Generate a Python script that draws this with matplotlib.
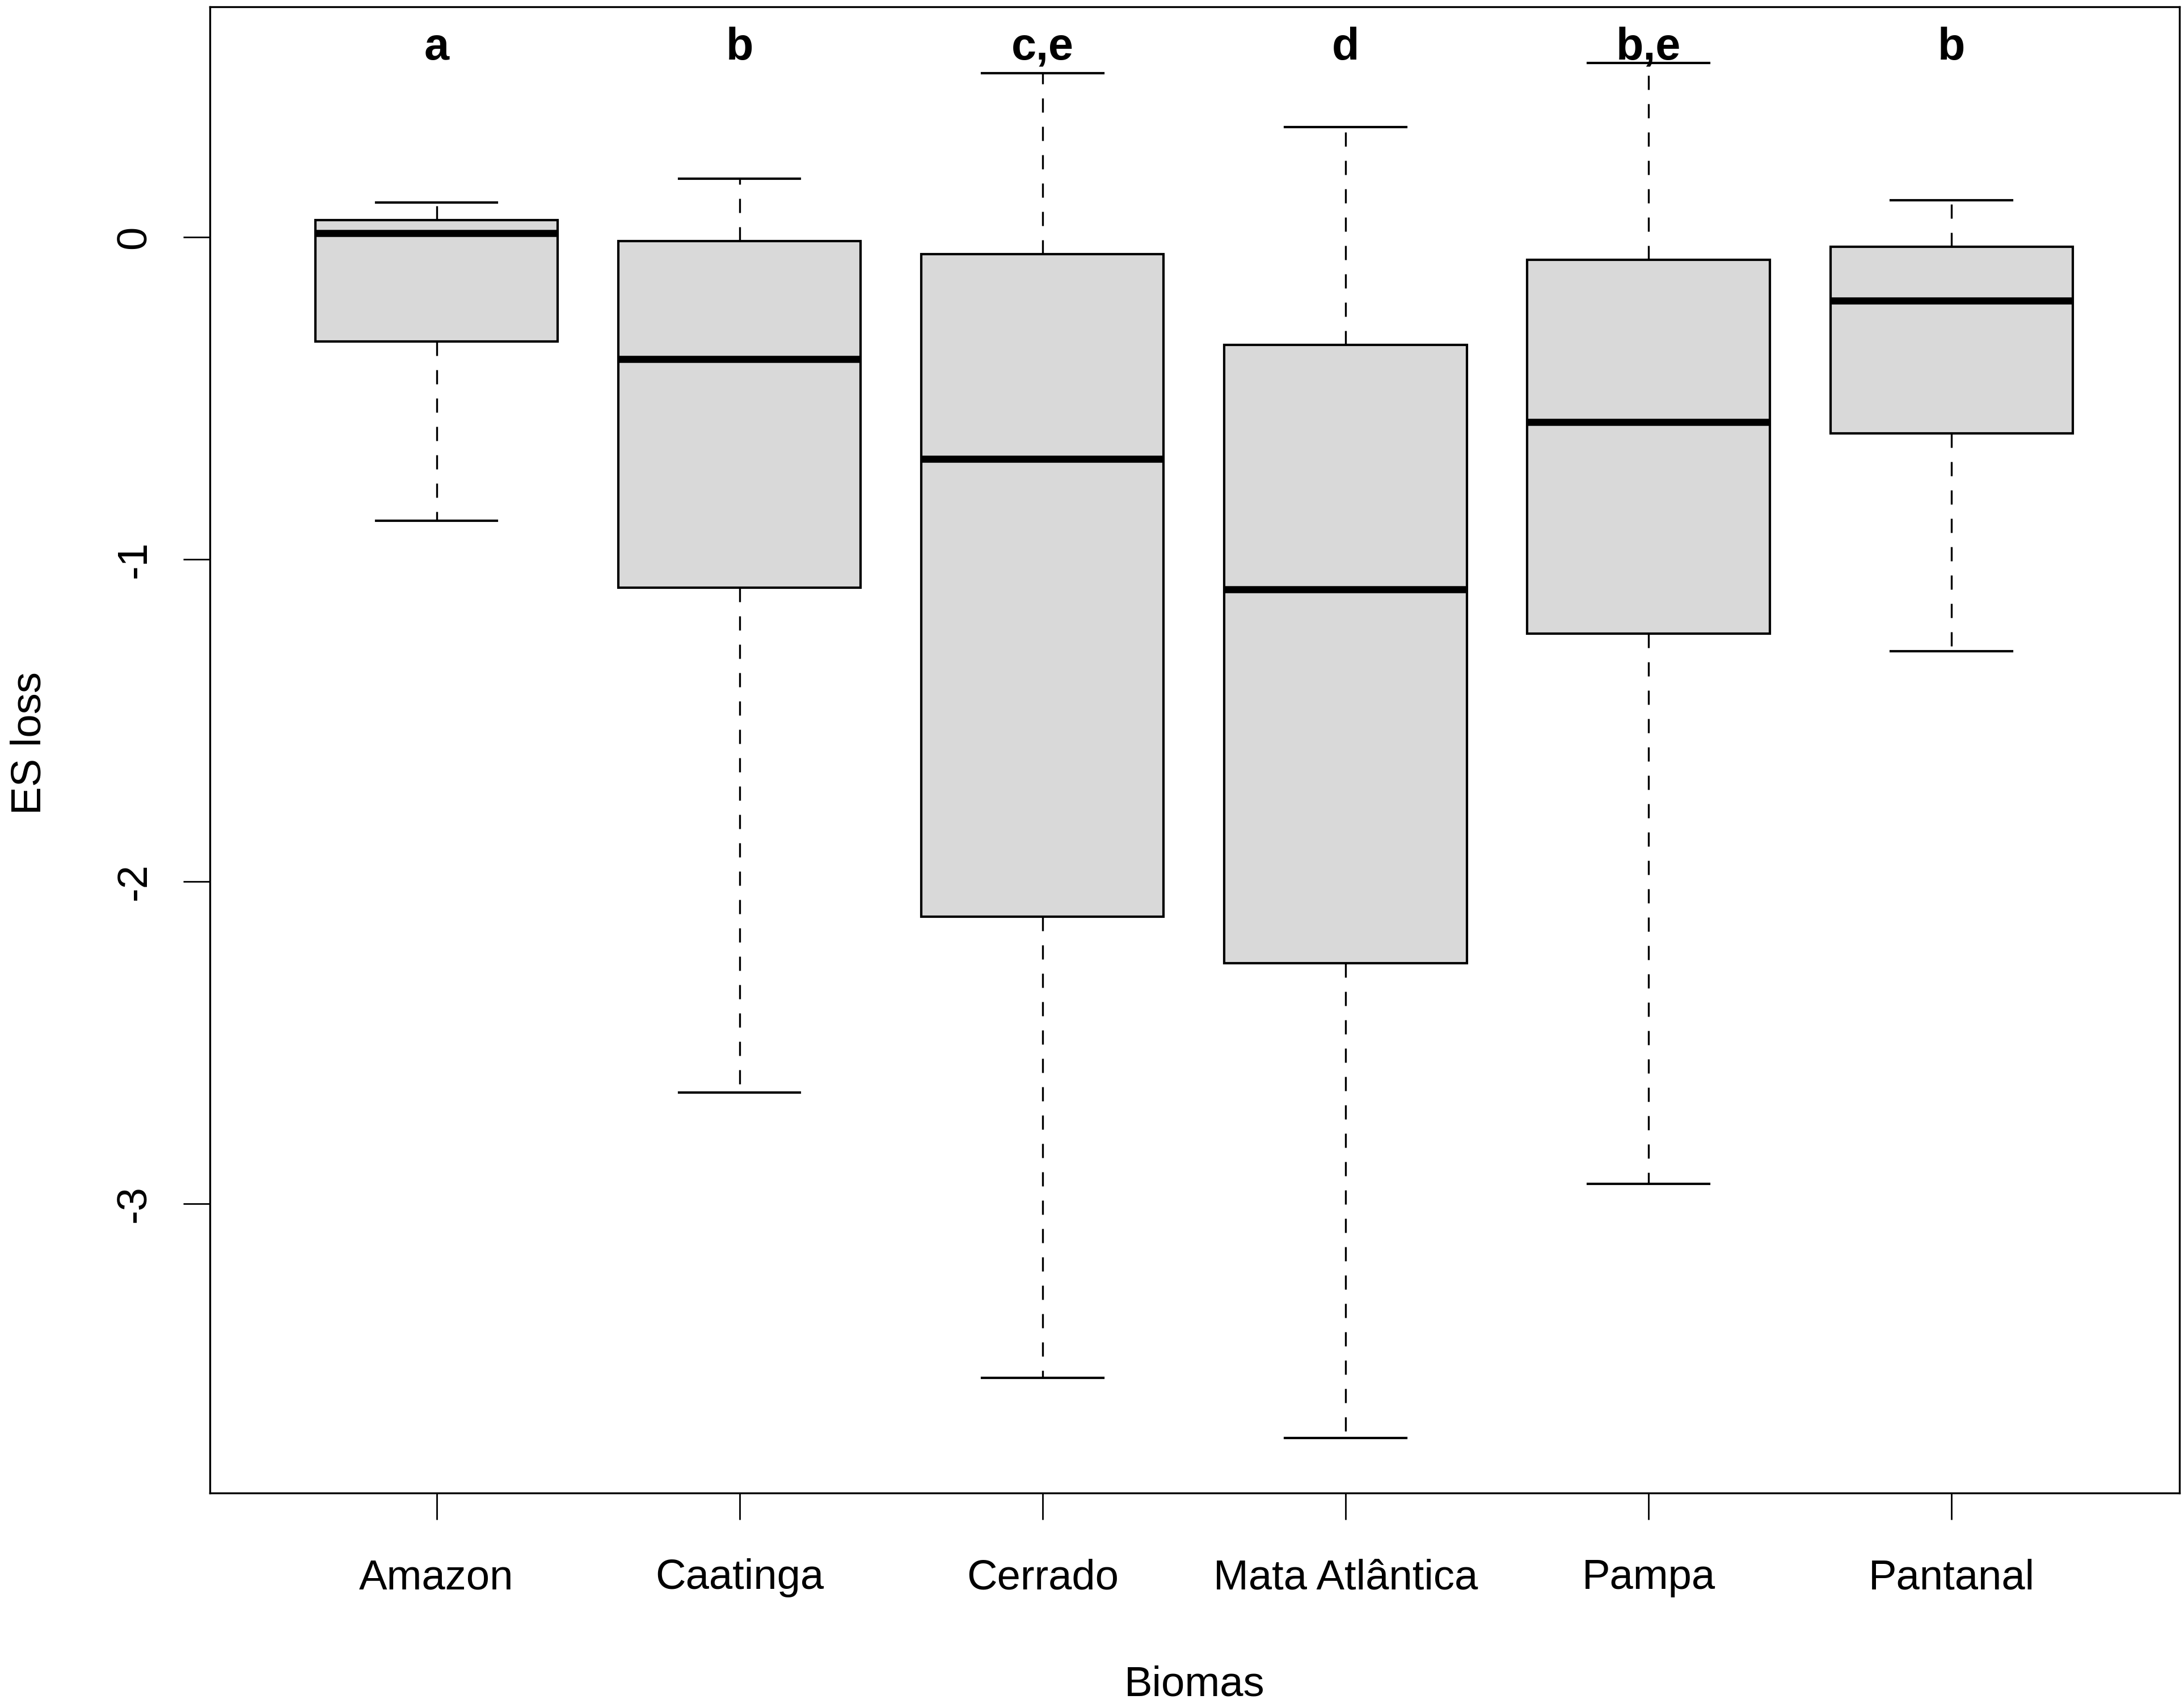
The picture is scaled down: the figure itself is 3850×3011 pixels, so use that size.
import matplotlib
matplotlib.use("Agg")
import matplotlib.pyplot as plt

plt.rcParams['font.family'] = ['Liberation Sans', 'DejaVu Sans']

# values
biomas = ['Amazon', 'Caatinga', 'Cerrado', 'Mata Atlântica', 'Pampa', 'Pantanal']
whisk_lo = [-0.88, -2.655, -3.541, -3.728, -2.938, -1.286]
q1 = [-0.324, -1.088, -2.11, -2.253, -1.23, -0.609]
med = [0.013, -0.379, -0.688, -1.093, -0.574, -0.197]
q3 = [0.053, -0.013, -0.052, -0.335, -0.070, -0.030]
whisk_hi = [0.107, 0.182, 0.509, 0.341, 0.541, 0.115]
letters = ['a', 'b', 'c,e', 'd', 'b,e', 'b']

stats = []
for i in range(len(biomas)):
    stats.append({'whislo': whisk_lo[i], 'q1': q1[i], 'med': med[i],
                  'q3': q3[i], 'whishi': whisk_hi[i], 'fliers': []})

fig = plt.figure(figsize=(38.5, 30.11), dpi=100)
ax = fig.add_axes([0.0961, 0.1259, 0.9018, 0.8701])

pos = list(range(1, len(biomas) + 1))
ax.bxp(stats, positions=pos, widths=0.8, capwidths=0.4, patch_artist=True,
       showfliers=False, manage_ticks=False,
       boxprops=dict(facecolor='#d9d9d9', edgecolor='black', linewidth=3),
       medianprops=dict(color='black', linewidth=9, solid_capstyle='butt'),
       whiskerprops=dict(color='black', linewidth=2.4, linestyle=(0, (7.5, 7.5))),
       capprops=dict(color='black', linewidth=3))

for i, lab in enumerate(letters):
    ax.text(pos[i], 0.588, lab, ha='center', va='center', fontsize=57,
            fontweight='bold')

ax.set_xlim(0.252, 6.752)
ax.set_ylim(-3.898, 0.715)

ax.set_xticks(pos)
ax.set_xticklabels(biomas, fontsize=53.5)
ax.set_yticks([0, -1, -2, -3])
ax.set_yticklabels(['0', '-1', '-2', '-3'], fontsize=53.5, rotation=90, va='center')
ax.tick_params(axis='both', length=34, width=2, direction='out')
ax.tick_params(axis='x', pad=49)
ax.tick_params(axis='y', pad=37)

for sp in ax.spines.values():
    sp.set_linewidth(2.4)

fig.text(52 / 3850, 1 - 1310 / 3011, 'ES loss', rotation=90, ha='center',
         va='center', fontsize=53.5)
fig.text(0.5 * (370 + 3842) / 3850, 1 - 2970 / 3011, 'Biomas', ha='center',
         va='center', fontsize=53.5)

fig.savefig('out.png', dpi=100, facecolor='white')
